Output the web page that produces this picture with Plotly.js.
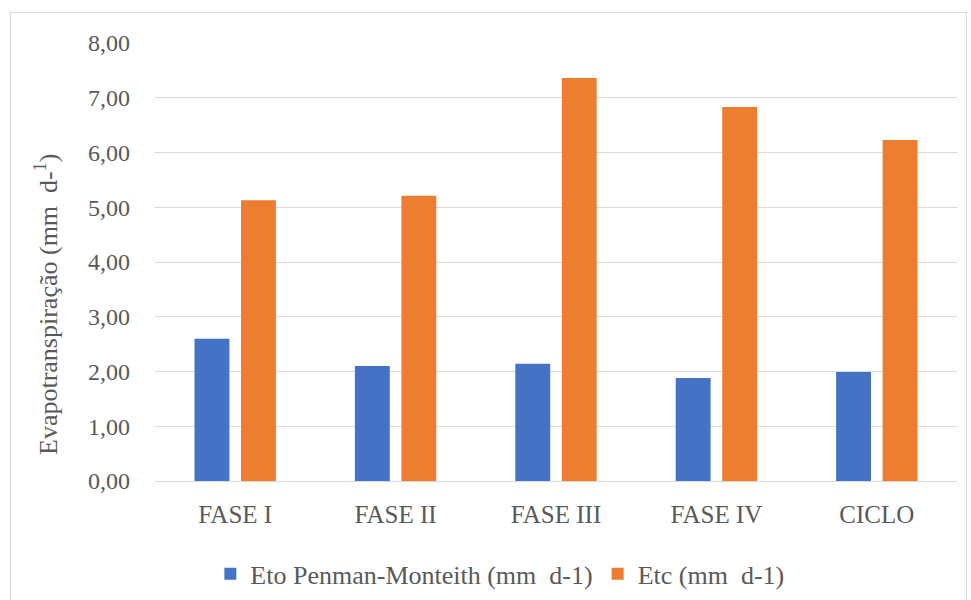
<!DOCTYPE html>
<html>
<head>
<meta charset="utf-8">
<script src="https://cdn.plot.ly/plotly-3.0.1.min.js"></script>
<style>
html,body{margin:0;padding:0;background:#fff;}
#wrap{position:relative;width:971px;height:600px;overflow:hidden;}
#chart{width:971px;height:600px;}
#frame{position:absolute;left:10px;top:12px;width:955px;height:620px;border:1px solid #d9d9d9;pointer-events:none;}
</style>
</head>
<body>
<div id="wrap"><div id="chart"></div><div id="frame"></div></div>
<script>
const categories = ["FASE I", "FASE II", "FASE III", "FASE IV", "CICLO"];
const etoValues = [2.60, 2.10, 2.14, 1.88, 1.99];
const etcValues = [5.13, 5.21, 7.36, 6.83, 6.23];
const etoName = "Eto Penman-Monteith (mm  d-1)";
const etcName = "Etc (mm  d-1)";
const yTitle = "Evapotranspiração (mm  d-<sup>1</sup>)";
const yTicks = [0, 1, 2, 3, 4, 5, 6, 7, 8];

const fam = "Liberation Serif, Times New Roman, serif";
const grey = "#595959";
const traces = [
  {type: "bar", name: etoName, x: categories, y: etoValues, marker: {color: "#4472C4"}, hoverinfo: "y"},
  {type: "bar", name: etcName, x: categories, y: etcValues, marker: {color: "#ED7D31"}, hoverinfo: "y"}
];
const layout = {
  width: 971, height: 600,
  margin: {l: 155, r: 14, t: 43, b: 119, autoexpand: false},
  paper_bgcolor: "#ffffff", plot_bgcolor: "#ffffff",
  separators: ",.",
  barmode: "group", bargap: 0.42, bargroupgap: 0.25,
  font: {family: fam, color: grey, size: 24},
  xaxis: {
    type: "category", showgrid: false, zeroline: false, automargin: false,
    showline: false, ticks: "", tickfont: {family: fam, size: 25, color: grey},
    ticklabelstandoff: 16
  },
  yaxis: {
    range: [0, 8], tickvals: yTicks, tickformat: ".2f", automargin: false,
    showgrid: true, gridcolor: "#d9d9d9", gridwidth: 1,
    zeroline: true, zerolinecolor: "#d9d9d9", zerolinewidth: 1,
    showline: false, ticks: "", ticklabelstandoff: 24,
    tickfont: {family: fam, size: 24, color: grey}
  },
  annotations: [{
    text: yTitle, xref: "paper", yref: "paper", x: -0.136, y: 0.404,
    xanchor: "center", yanchor: "middle", textangle: -90, showarrow: false,
    font: {family: fam, size: 26, color: grey}
  }],
  legend: {
    orientation: "h", x: 0.43, xanchor: "center", y: -0.212, yanchor: "middle",
    font: {family: fam, size: 26, color: grey}, itemwidth: 14, tracegroupgap: 0
  },
  showlegend: true
};
Plotly.newPlot("chart", traces, layout, {displayModeBar: false, staticPlot: true});
</script>
</body>
</html>
